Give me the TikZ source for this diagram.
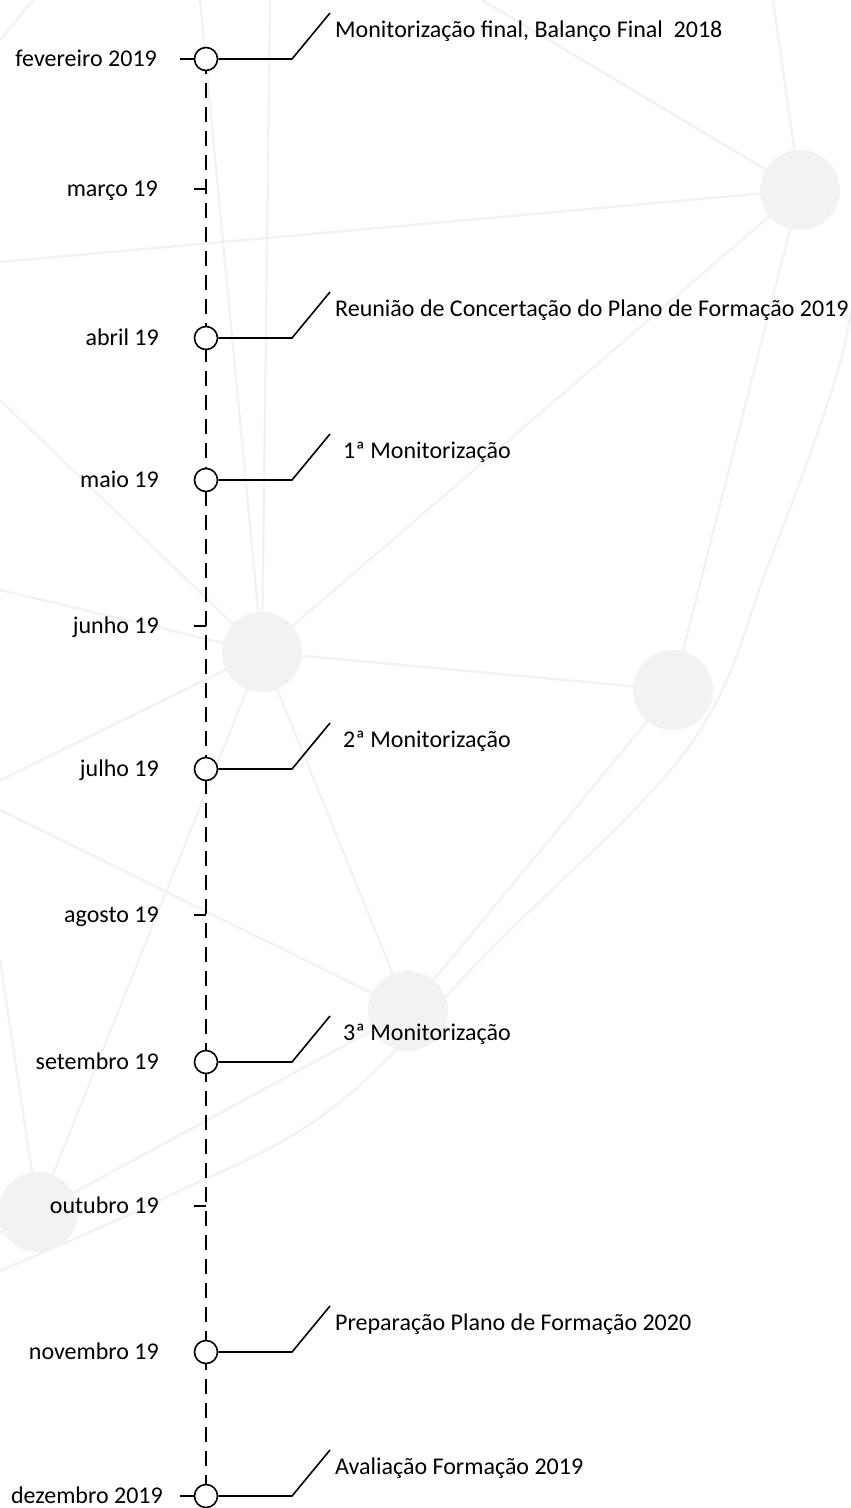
\documentclass[tikz,border=0pt]{standalone}
\usepackage{fontspec}
\setmainfont{Carlito}
\usetikzlibrary{calc}

\tikzset{
  netline/.style={line width=2.4pt, draw=black!5},
  netnode/.style={circle, fill=black!5, minimum size=80pt, inner sep=0pt},
  axisline/.style={line width=1.6pt, dash pattern=on 15pt off 9pt},
  milestone/.style={circle, draw=black, fill=white, line width=1.6pt, minimum size=23pt, inner sep=0pt},
  tickmark/.style={line width=1.6pt},
  leader/.style={line width=1.6pt},
  monthlabel/.style={anchor=base east, inner sep=0pt, font=\fontsize{24}{28}\selectfont},
  eventlabel/.style={anchor=base west, inner sep=0pt, font=\fontsize{24}{28}\selectfont}
}

\begin{document}
\begin{tikzpicture}[x=1pt, y=-1pt]
\useasboundingbox (0,0) rectangle (851,1508);

% faint network in the background
\begin{scope}
  \clip (0,0) rectangle (851,1508);
  \coordinate (p1) at (800,190);
  \coordinate (p2) at (262,652);
  \coordinate (p3) at (673,690);
  \coordinate (p4) at (408,1011);
  \coordinate (p5) at (38,1212);
  \coordinate (q0) at (-30,795);
  \draw[netline] (482,0) -- (p1);
  \draw[netline] (773,0) -- (p1);
  \draw[netline] (0,262) -- (p1);
  \draw[netline] (p1) -- (p2);
  \draw[netline] (p1) -- (p3);
  \draw[netline] (p2) -- (p3);
  \draw[netline] (200,0) -- (p2);
  \draw[netline] (270,0) -- (p2);
  \draw[netline] (0,400) -- (p2);
  \draw[netline] (0,590) -- (p2);
  \draw[netline] (p2) -- (q0);
  \draw[netline] (q0) -- (p4);
  \draw[netline] (p2) -- (p4);
  \draw[netline] (p2) -- (p5);
  \draw[netline] (p3) -- (p4);
  \draw[netline] (p4) -- (p5) -- ($(p5)!-1!(p4)$);
  \draw[netline] (0,960) -- (p5);
  \draw[netline] (0,40) -- (33,0);
  \draw[netline] plot[smooth, tension=0.6] coordinates
    {(860,250) (838,370) (770,560) (690,745) (493,947) (330,1110) (160,1200) (-10,1275)};
  \node[netnode] (n1) at (p1) {};
  \node[netnode] (n2) at (p2) {};
  \node[netnode] (n3) at (p3) {};
  \node[netnode] (n4) at (p4) {};
  \node[netnode] (n5) at (p5) {};
\end{scope}

% month positions on the axis
\coordinate (m-feb) at (206,59);
\coordinate (m-mar) at (206,189);
\coordinate (m-abr) at (206,338);
\coordinate (m-mai) at (206,480);
\coordinate (m-jun) at (206,626);
\coordinate (m-jul) at (206,769);
\coordinate (m-ago) at (206,915);
\coordinate (m-set) at (206,1062);
\coordinate (m-out) at (206,1206);
\coordinate (m-nov) at (206,1352);
\coordinate (m-dez) at (206,1496);

% time axis
\draw[axisline] (m-feb) -- (m-dez);

% plain month ticks
\foreach \m in {mar,jun,ago,out}
  \draw[tickmark] (m-\m) -- ++(-12,0);

% milestones with leader lines
\foreach \m in {feb,abr,mai,jul,set,nov,dez}{
  \node[milestone] (c-\m) at (m-\m) {};
  \coordinate (b-\m) at ($(m-\m)+(86,0)$);
  \coordinate (t-\m) at ($(b-\m)+(38,-46)$);
  \draw[leader] (c-\m.east) -- (b-\m) -- (t-\m);
}
\draw[tickmark] (c-feb.west) -- ++(-14,0);
\draw[tickmark] (c-dez.west) -- ++(-14,0);

% month labels
\node[monthlabel] (l-feb) at (157,66)   {fevereiro 2019};
\node[monthlabel] (l-mar) at (158,196)  {março 19};
\node[monthlabel] (l-abr) at (159,345)  {abril 19};
\node[monthlabel] (l-mai) at (159,487)  {maio 19};
\node[monthlabel] (l-jun) at (159,633)  {junho 19};
\node[monthlabel] (l-jul) at (159,776)  {julho 19};
\node[monthlabel] (l-ago) at (159,922)  {agosto 19};
\node[monthlabel] (l-set) at (159,1069) {setembro 19};
\node[monthlabel] (l-out) at (159,1213) {outubro 19};
\node[monthlabel] (l-nov) at (159,1359) {novembro 19};
\node[monthlabel] (l-dez) at (163,1503) {dezembro 2019};

% event labels
\node[eventlabel] (e-feb) at (335,37)   {Monitorização final, Balanço Final\ \ 2018};
\node[eventlabel] (e-abr) at (335,316)  {Reunião de Concertação do Plano de Formação 2019};
\node[eventlabel] (e-mai) at (343,458)  {1ª Monitorização};
\node[eventlabel] (e-jul) at (343,747)  {2ª Monitorização};
\node[eventlabel] (e-set) at (343,1040) {3ª Monitorização};
\node[eventlabel] (e-nov) at (335,1330) {Preparação Plano de Formação 2020};
\node[eventlabel] (e-dez) at (335,1474) {Avaliação Formação 2019};
\end{tikzpicture}
\end{document}
